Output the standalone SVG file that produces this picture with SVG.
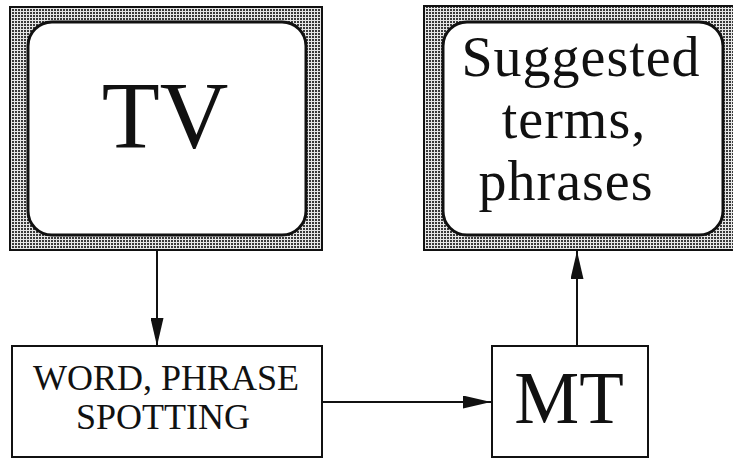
<svg xmlns="http://www.w3.org/2000/svg" width="733" height="459" viewBox="0 0 733 459">
<style>
.frame{fill:url(#stip);stroke:#111;stroke-width:2}
.screen{fill:#fff;stroke:#111;stroke-width:3}
.box{fill:#fff;stroke:#111;stroke-width:2}
.t{font-family:"Liberation Serif","Times New Roman",serif;fill:#111;text-anchor:middle}
.s{font-size:56px;letter-spacing:1px}
.conn{stroke:#111;stroke-width:2;fill:none;marker-end:url(#ah)}
</style>
<defs>
<pattern id="stip" width="3" height="3" patternUnits="userSpaceOnUse">
<rect width="3" height="3" fill="#e6e6e6"/>
<rect x="0" y="0" width="2" height="2" fill="#3a3a3a"/>
</pattern>
<marker id="ah" viewBox="0 0 28 13" refX="28" refY="6.5" markerWidth="28" markerHeight="13" markerUnits="userSpaceOnUse" orient="auto">
<path d="M0,0 L28,6.5 L0,13 z" fill="#111"/>
</marker>
</defs>
<rect width="733" height="459" fill="#fff"/>
<g id="tv">
<rect class="frame" x="10" y="7" width="312" height="243"/>
<rect class="screen" x="28" y="22" width="278" height="213" rx="24" ry="24"/>
<text class="t" x="165" y="148" font-size="95">TV</text>
</g>
<g id="suggested">
<rect class="frame" x="424" y="6" width="320" height="244"/>
<rect class="screen" x="443" y="22" width="280" height="213" rx="24" ry="24"/>
<text class="t s" x="581" y="76">Suggested</text>
<text class="t s" x="574" y="138">terms,</text>
<text class="t s" x="566" y="200">phrases</text>
</g>
<g id="spotting">
<rect class="box" x="12" y="346" width="310" height="111"/>
<text class="t" x="166" y="390" font-size="36">WORD, PHRASE</text>
<text class="t" x="163" y="429" font-size="36">SPOTTING</text>
</g>
<g id="mt">
<rect class="box" x="492" y="346" width="156" height="111"/>
<text class="t" x="569" y="423" font-size="73">MT</text>
</g>
<g id="connectors">
<line class="conn" x1="157" y1="250" x2="157" y2="346"/>
<line class="conn" x1="322" y1="402" x2="491" y2="402"/>
<line class="conn" x1="577" y1="346" x2="577" y2="251"/>
</g>
</svg>
